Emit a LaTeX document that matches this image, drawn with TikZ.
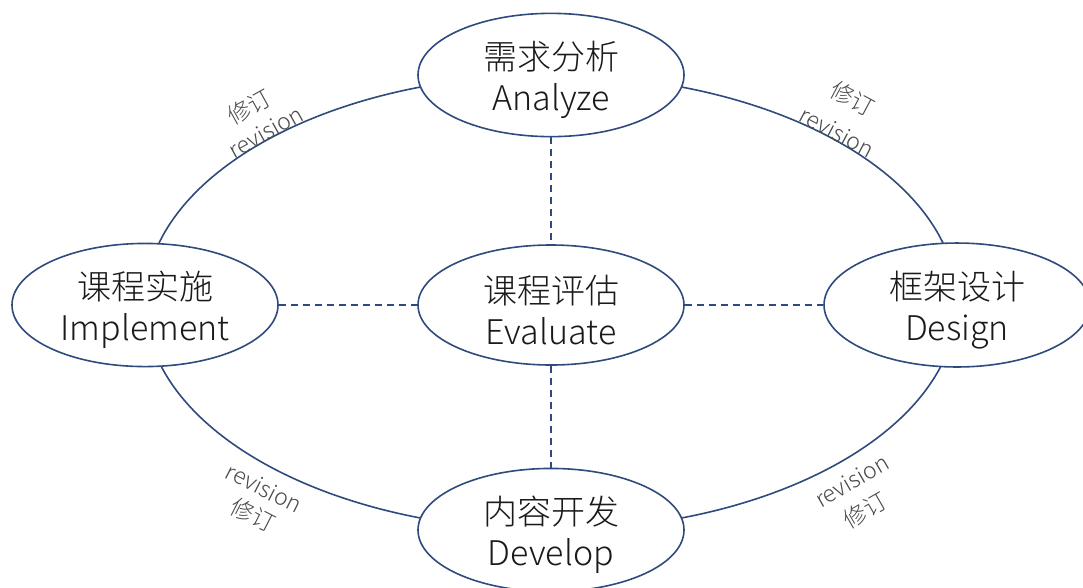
\documentclass[tikz,border=0pt]{standalone}
\usepackage{fontspec}
\setmainfont{Noto Sans CJK SC}[UprightFont=* Light, BoldFont=* Bold]
\usetikzlibrary{shapes.geometric}
\definecolor{navy}{HTML}{2F4A7C}
\definecolor{labgray}{HTML}{4A4A4A}
\definecolor{txt}{HTML}{1A1A1A}
\newcommand{\tstrut}{\rule{0pt}{38pt}}
\tikzset{
  phase/.style={ellipse, draw=navy, line width=1.6pt, fill=white, minimum width=266pt, minimum height=120pt, inner sep=0pt, align=center, text=txt, font=\fontsize{34}{41}\selectfont},
  link/.style={draw=navy, line width=1.3pt, dash pattern=on 7pt off 5pt},
  rev/.style={text=labgray, font=\fontsize{23}{28}\selectfont, inner sep=0pt}
}
\begin{document}
\begin{tikzpicture}[x=1pt,y=-1pt]
\useasboundingbox (0,0) rectangle (1083,587);
\coordinate (O) at (551,302.5);
\draw[navy, line width=1.6pt] (O) ellipse [x radius=406pt, y radius=227.5pt];
\node[phase] (A) at (551,75) {\tstrut 需求分析\\Analyze};
\node[phase] (E) at (551,305) {\tstrut 课程评估\\Evaluate};
\node[phase] (I) at (145,305) {\tstrut 课程实施\\Implement};
\node[phase] (D) at (957,305) {\tstrut 框架设计\\Design};
\node[phase] (V) at (551,530) {\tstrut 内容开发\\Develop};
\draw[link] (A) -- (E);
\draw[link] (I) -- (E);
\draw[link] (E) -- (D);
\draw[link] (E) -- (V);
% revision labels
\node[rev, rotate=29] (r1c) at (249,107) {修订};
\node[rev, rotate=29] (r1e) at (266,132) {revision};
\node[rev, rotate=-28] (r2c) at (853,99) {修订};
\node[rev, rotate=-28] (r2e) at (837,132) {revision};
\node[rev, rotate=-27] (r3e) at (264,488) {revision};
\node[rev, rotate=-27] (r3c) at (253,515) {修订};
\node[rev, rotate=30] (r4e) at (852,481) {revision};
\node[rev, rotate=30] (r4c) at (865,510) {修订};
\end{tikzpicture}
\end{document}
